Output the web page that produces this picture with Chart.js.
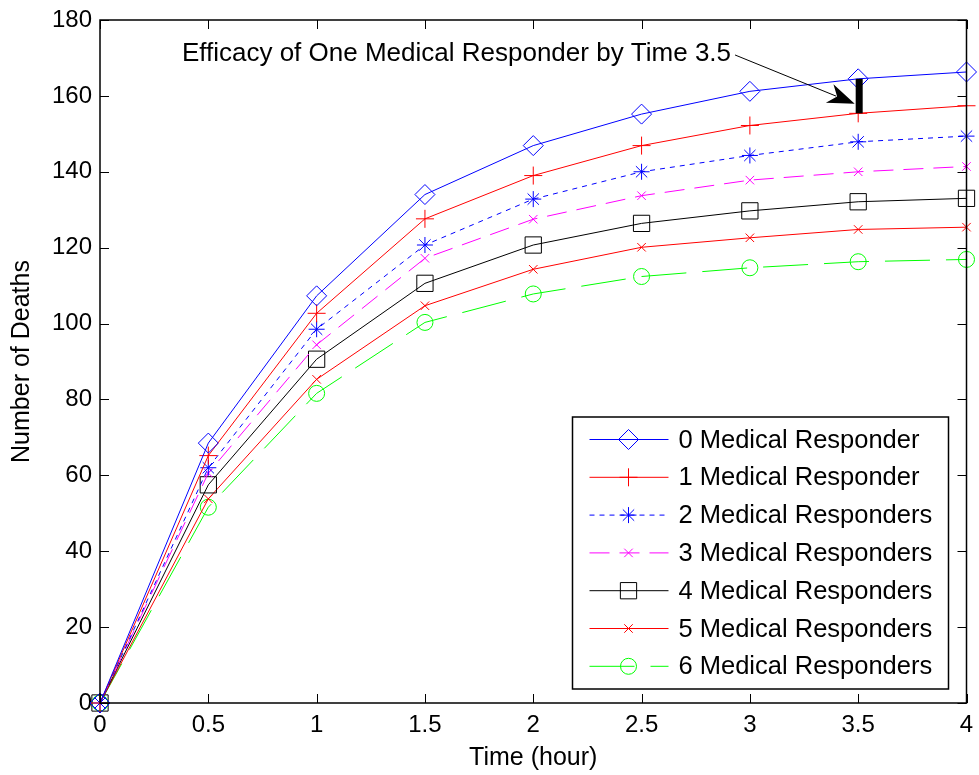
<!DOCTYPE html>
<html>
<head>
<meta charset="utf-8">
<script src="https://cdn.jsdelivr.net/npm/chart.js@4.4.0/dist/chart.umd.min.js"></script>
<style>
body { margin: 0; background: #fff; }
canvas { display: block; }
</style>
</head>
<body>
<canvas id="myChart" width="979" height="775"></canvas>
<script>
var times = [0, 0.5, 1, 1.5, 2, 2.5, 3, 3.5, 4];
var seriesNames = ['0 Medical Responder', '1 Medical Responder', '2 Medical Responders',
    '3 Medical Responders', '4 Medical Responders', '5 Medical Responders', '6 Medical Responders'];
var deaths0 = [0, 68.5, 107.3, 134.0, 146.9, 155.2, 161.2, 164.5, 166.3];
var deaths1 = [0, 65.2, 102.7, 127.6, 139.0, 146.9, 152.2, 155.4, 157.4];
var deaths2 = [0, 62.0, 98.5, 120.7, 132.8, 140.0, 144.3, 147.9, 149.4];
var deaths3 = [0, 60.6, 94.4, 117.2, 127.5, 133.7, 137.8, 140.0, 141.4];
var deaths4 = [0, 57.5, 90.6, 110.6, 120.7, 126.4, 129.7, 132.1, 133.0];
var deaths5 = [0, 53.8, 85.3, 104.7, 114.3, 120.1, 122.6, 124.8, 125.4];
var deaths6 = [0, 51.6, 81.6, 100.3, 107.8, 112.4, 114.7, 116.3, 116.9];
var xTicks = [0, 0.5, 1, 1.5, 2, 2.5, 3, 3.5, 4];
var yTicks = [0, 20, 40, 60, 80, 100, 120, 140, 160, 180];

// annotation
var noteText = 'Efficacy of One Medical Responder by Time 3.5';
var noteTime = 3.5;

var FONT = "'Liberation Sans', Arial, Helvetica, sans-serif";

function makeSet(i, data, color, style, radius, dash) {
    return {
        label: seriesNames[i],
        data: times.map(function (t, k) { return { x: t, y: data[k] }; }),
        borderColor: color,
        borderWidth: 1,
        borderDash: dash,
        pointStyle: style,
        pointRadius: radius,
        pointHoverRadius: radius,
        pointBorderColor: color,
        pointBackgroundColor: 'rgba(0,0,0,0)',
        pointBorderWidth: 1,
        tension: 0,
        fill: false,
        clip: false
    };
}

var datasets = [
    makeSet(0, deaths0, '#0000ff', 'rectRot', 10, []),
    makeSet(1, deaths1, '#ff0000', 'cross', 9, []),
    makeSet(2, deaths2, '#0000ff', 'star', 8, [5, 5]),
    makeSet(3, deaths3, '#ff00ff', 'crossRot', 6, [20, 10]),
    makeSet(4, deaths4, '#000000', 'rect', 11.5, []),
    makeSet(5, deaths5, '#ff0000', 'crossRot', 6, []),
    makeSet(6, deaths6, '#00ff00', 'circle', 8, [45, 16])
];

// box + inward ticks on all four sides
const axesBox = {
    id: 'axesBox',
    afterDatasetsDraw(chart) {
        const { ctx, chartArea: { top, bottom, left, right }, scales: { x, y } } = chart;
        ctx.save();
        ctx.strokeStyle = '#000';
        ctx.lineWidth = 1.5;
        ctx.setLineDash([]);
        ctx.strokeRect(left, top, right - left, bottom - top);
        ctx.lineWidth = 1;
        ctx.beginPath();
        xTicks.forEach(function (v) {
            var px = Math.round(x.getPixelForValue(v)) + 0.5;
            ctx.moveTo(px, bottom); ctx.lineTo(px, bottom - 9);
            ctx.moveTo(px, top); ctx.lineTo(px, top + 9);
        });
        yTicks.forEach(function (v) {
            var py = Math.round(y.getPixelForValue(v)) + 0.5;
            ctx.moveTo(left, py); ctx.lineTo(left + 9, py);
            ctx.moveTo(right, py); ctx.lineTo(right - 9, py);
        });
        ctx.stroke();
        ctx.restore();
    }
};

// text + arrow + bar showing the gap at t = 3.5
const efficacyNote = {
    id: 'efficacyNote',
    afterDatasetsDraw(chart) {
        const { ctx, scales: { x, y } } = chart;
        var k = times.indexOf(noteTime);
        var bx = x.getPixelForValue(noteTime) + 1;
        var yTop = y.getPixelForValue(deaths0[k]);
        var yBot = y.getPixelForValue(deaths1[k]);
        ctx.save();
        ctx.fillStyle = '#000';
        ctx.fillRect(bx - 3.5, yTop, 7, yBot - yTop);

        ctx.font = '26px ' + FONT;
        ctx.textBaseline = 'alphabetic';
        var tx = x.getPixelForValue(0.378);
        var ty = y.getPixelForValue(169.2);
        ctx.fillText(noteText, tx, ty);
        var tw = ctx.measureText(noteText).width;

        var x0 = tx + tw + 4, y0 = ty - 6;
        var x1 = bx - 4.5, y1 = yTop + (yBot - yTop) * 0.72;
        var ang = Math.atan2(y1 - y0, x1 - x0);
        ctx.strokeStyle = '#000';
        ctx.lineWidth = 1;
        ctx.beginPath();
        ctx.moveTo(x0, y0);
        ctx.lineTo(x1 - 20 * Math.cos(ang), y1 - 20 * Math.sin(ang));
        ctx.stroke();
        ctx.translate(x1, y1);
        ctx.rotate(ang);
        ctx.beginPath();
        ctx.moveTo(0, 0);
        ctx.lineTo(-27, -10);
        ctx.lineTo(-19, 0);
        ctx.lineTo(-27, 10);
        ctx.closePath();
        ctx.fill();
        ctx.restore();
    }
};

// MATLAB-style legend box in the lower right
const boxLegend = {
    id: 'boxLegend',
    afterDraw(chart) {
        const { ctx, chartArea: { bottom, right } } = chart;
        var w = 376, rowH = 37.8, h = 272;
        var bx = right - 18 - w, by = bottom - 14 - h;
        ctx.save();
        ctx.fillStyle = '#fff';
        ctx.fillRect(bx, by, w, h);
        ctx.strokeStyle = '#000';
        ctx.lineWidth = 1.5;
        ctx.strokeRect(bx, by, w, h);
        ctx.font = '25.5px ' + FONT;
        ctx.textBaseline = 'middle';
        chart.data.datasets.forEach(function (ds, i) {
            var cy = by + 22.5 + i * rowH;
            ctx.strokeStyle = ds.borderColor;
            ctx.lineWidth = 1;
            ctx.setLineDash(ds.borderDash);
            ctx.beginPath();
            ctx.moveTo(bx + 17, cy);
            ctx.lineTo(bx + 96, cy);
            ctx.stroke();
            ctx.setLineDash([]);
            ctx.fillStyle = 'rgba(0,0,0,0)';
            Chart.helpers.drawPoint(ctx, {
                pointStyle: ds.pointStyle, radius: ds.pointRadius, rotation: 0, borderWidth: 1
            }, bx + 56, cy);
            ctx.fillStyle = '#000';
            ctx.fillText(ds.label, bx + 106, cy + 1);
        });
        ctx.restore();
    }
};

const config = {
    type: 'line',
    data: { datasets: datasets },
    plugins: [axesBox, efficacyNote, boxLegend],
    options: {
        responsive: false,
        devicePixelRatio: 1,
        animation: false,
        layout: { padding: { top: 20, right: 11, left: 0, bottom: 0 } },
        plugins: {
            legend: { display: false },
            tooltip: { enabled: false }
        },
        scales: {
            x: {
                type: 'linear',
                min: 0,
                max: 4,
                afterBuildTicks(scale) { scale.ticks = xTicks.map(function (v) { return { value: v }; }); },
                afterFit(scale) {
                    scale.height = 72;
                    scale.paddingLeft = 0;
                    scale.paddingRight = 0;
                },
                grid: { display: false, drawTicks: false },
                border: { display: false },
                ticks: {
                    color: '#000',
                    padding: 8,
                    maxRotation: 0,
                    callback: function (v) { return String(v); },
                    font: { family: FONT, size: 24 }
                },
                title: {
                    display: true,
                    text: 'Time (hour)',
                    color: '#000',
                    font: { family: FONT, size: 25 },
                    padding: { top: 0, bottom: 2 }
                }
            },
            y: {
                type: 'linear',
                min: 0,
                max: 180,
                afterBuildTicks(scale) { scale.ticks = yTicks.map(function (v) { return { value: v }; }); },
                afterFit(scale) {
                    scale.width = 100;
                    scale.paddingTop = 0;
                    scale.paddingBottom = 0;
                },
                grid: { display: false, drawTicks: false },
                border: { display: false },
                ticks: {
                    color: '#000',
                    padding: 8,
                    callback: function (v) { return String(v); },
                    font: { family: FONT, size: 24 }
                },
                title: {
                    display: true,
                    text: 'Number of Deaths',
                    color: '#000',
                    font: { family: FONT, size: 25 },
                    padding: { top: 7, bottom: 0 }
                }
            }
        }
    }
};

var myChart = new Chart(document.getElementById('myChart'), config);
</script>
</body>
</html>
